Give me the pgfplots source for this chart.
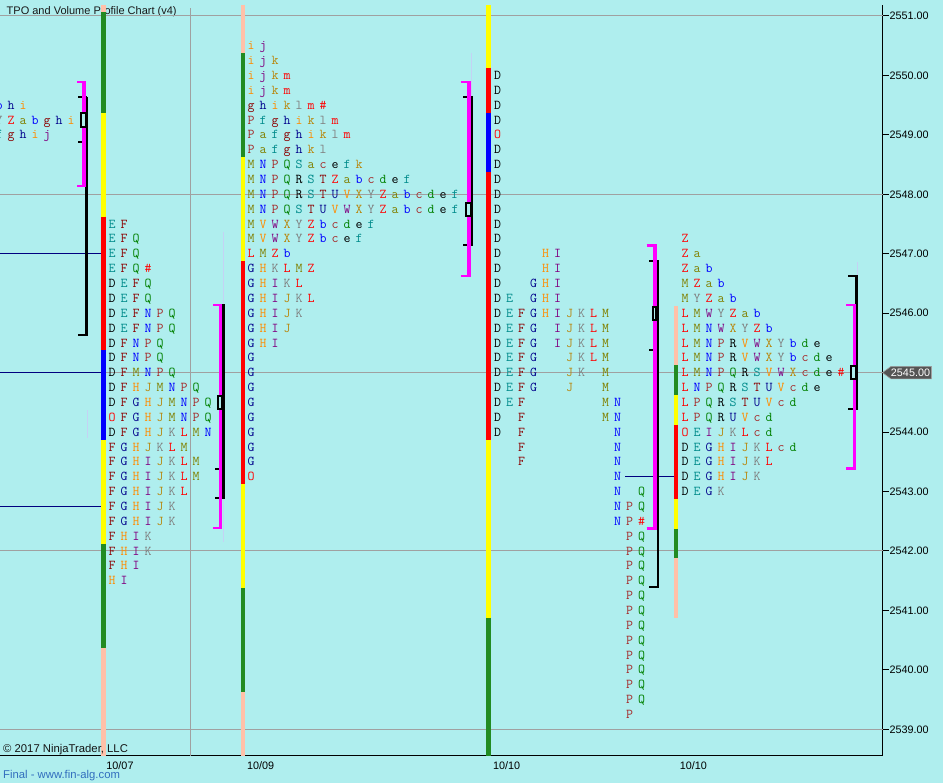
\documentclass[border=0pt]{standalone}
\usepackage{pgfplots}
\pgfplotsset{compat=1.18}
\usepackage{fontspec}
\setmainfont{Liberation Sans}
\definecolor{bgc}{HTML}{AFEEEE}
\definecolor{gridc}{HTML}{A0A0A0}
\definecolor{navyc}{HTML}{000080}
\definecolor{pkc}{HTML}{FFC0A8}
\definecolor{gnc}{HTML}{228B22}
\definecolor{ylc}{HTML}{FFFF00}
\definecolor{rdc}{HTML}{FF0000}
\definecolor{blc}{HTML}{0000FF}
\definecolor{mgc}{HTML}{FF00FF}
\definecolor{faintc}{HTML}{C4D2F4}
% TPO letter colour cycle
\definecolor{qa}{HTML}{000000}
\definecolor{qb}{HTML}{008B8B}
\definecolor{qc}{HTML}{8B0000}
\definecolor{qd}{HTML}{00008B}
\definecolor{qe}{HTML}{FF8C00}
\definecolor{qf}{HTML}{800080}
\definecolor{qg}{HTML}{B8860B}
\definecolor{qh}{HTML}{808080}
\definecolor{qi}{HTML}{FF0000}
\definecolor{qj}{HTML}{808000}
\definecolor{qk}{HTML}{0000FF}
\definecolor{ql}{HTML}{A52A2A}
\definecolor{qm}{HTML}{008000}
\colorlet{tpoD}{qa}\colorlet{tpoE}{qb}\colorlet{tpoF}{qc}\colorlet{tpoG}{qd}
\colorlet{tpoH}{qe}\colorlet{tpoI}{qf}\colorlet{tpoJ}{qg}\colorlet{tpoK}{qh}
\colorlet{tpoL}{qi}\colorlet{tpoM}{qj}\colorlet{tpoN}{qk}\colorlet{tpoP}{ql}
\colorlet{tpoQ}{qm}\colorlet{tpoR}{qa}\colorlet{tpoS}{qb}\colorlet{tpoT}{qc}
\colorlet{tpoU}{qd}\colorlet{tpoV}{qe}\colorlet{tpoW}{qf}\colorlet{tpoX}{qg}
\colorlet{tpoY}{qh}\colorlet{tpoZ}{qi}\colorlet{tpoa}{qj}\colorlet{tpob}{qk}
\colorlet{tpoc}{ql}\colorlet{tpod}{qm}\colorlet{tpoe}{qa}\colorlet{tpof}{qb}
\colorlet{tpog}{qc}\colorlet{tpoh}{qd}\colorlet{tpoi}{qe}\colorlet{tpoj}{qf}
\colorlet{tpok}{qg}\colorlet{tpol}{qh}\colorlet{tpom}{qi}\colorlet{tpoO}{qi}
\def\tpoend{}
\def\tpochx#1{\ifx#1.\else\ifx#1*\textcolor{red}{\#}\else\textcolor{tpo#1}{#1}\fi\fi}
\newcommand\tpoch[1]{\makebox[12pt][c]{\tpochx#1}}
\def\tpoloop#1{\ifx#1\tpoend\else\tpoch{#1}\expandafter\tpoloop\fi}
\newcommand\tpo[1]{\tpoloop#1\tpoend}
\newcommand\R[3]{\node[tpo] at (axis cs:#1,#2) {\tpo{#3}};}
\newcommand\bs[5]{\addplot[line width=#1pt,#2] coordinates {(#3,#4) (#3,#5)};}
\newcommand\hl[5]{\addplot[line width=#1pt,#2] coordinates {(#3,#5) (#4,#5)};}
\newcommand\poc[4]{\addplot[draw=black, line width=2pt, fill=bgc] coordinates {(#1,#3) (#2,#3) (#2,#4) (#1,#4)} -- cycle;}
\tikzset{tpo/.style={anchor=base west, inner sep=0pt, yshift=-4.1pt, font=\ttfamily\fontsize{13.5pt}{14pt}\selectfont}}
\begin{document}
\begin{tikzpicture}
\fill[bgc] (0pt,-27pt) rectangle (943pt,756pt);
\node[anchor=west, inner sep=0pt, font=\fontsize{11pt}{12pt}\selectfont, text={rgb,255:red,25;green,25;blue,25}] at (6.5pt,744pt) {TPO and Volume Profile Chart (v4)};
\begin{axis}[
  scale only axis, width=882.5pt, height=751pt,
  xmin=0, xmax=882.5, ymin=2538.551, ymax=2551.185,
  axis x line=bottom, axis y line=right,
  axis line style={-, black, line width=1pt},
  xtick={120,260.7,506.7,693.3},
  xticklabels={10/07,10/09,10/10,10/10},
  xtick style={draw=none},
  ytick={2539,2540,2541,2542,2543,2544,2545,2546,2547,2548,2549,2550,2551},
  yticklabels={{2539.00},{2540.00},{2541.00},{2542.00},{2543.00},{2544.00},{},{2546.00},{2547.00},{2548.00},{2549.00},{2550.00},{2551.00}},
  tick align=outside, major tick length=6pt,
  ytick style={black, line width=1pt},
  ticklabel style={font=\fontsize{10.8pt}{12pt}\selectfont, text=black},
  yticklabel style={inner sep=1pt},
  xticklabel style={inner sep=0pt, yshift=1pt},
  clip=false,
]
% grid
\hl{1}{gridc}{0}{882.5}{2539}
\hl{1}{gridc}{0}{882.5}{2542}
\hl{1}{gridc}{0}{882.5}{2545}
\hl{1}{gridc}{0}{882.5}{2548}
\hl{1}{gridc}{0}{882.5}{2551}
\bs{1}{gridc}{190}{2538.551}{2551.13}
% navy reference lines
\hl{1}{navyc}{0}{101}{2547}
\hl{1}{navyc}{0}{101}{2545}
\hl{1}{navyc}{0}{101}{2542.75}
\hl{1}{navyc}{625}{674}{2543.25}
% faint lines
\bs{1}{faintc}{223.3}{2547.37}{2542.15}
\bs{1}{faintc}{471.5}{2550.38}{2549.64}
\bs{1}{faintc}{857.8}{2546.86}{2546.63}
\bs{1}{faintc}{87}{2544.37}{2543.90}
\bs{1}{faintc}{658.8}{2545.63}{2545.38}
% bar 10/07
\bs{5}{pkc}{103.5}{2551.185}{2551.06}
\bs{5}{gnc}{103.5}{2551.06}{2549.375}
\bs{5}{ylc}{103.5}{2549.375}{2547.625}
\bs{5}{rdc}{103.5}{2547.625}{2545.375}
\bs{5}{blc}{103.5}{2545.375}{2543.875}
\bs{5}{ylc}{103.5}{2543.875}{2542.125}
\bs{5}{gnc}{103.5}{2542.125}{2540.375}
\bs{5}{pkc}{103.5}{2540.375}{2538.551}
% bar 10/09
\bs{4.5}{pkc}{243}{2551.185}{2550.375}
\bs{4.5}{gnc}{243}{2550.375}{2548.625}
\bs{4.5}{ylc}{243}{2548.625}{2546.875}
\bs{4.5}{rdc}{243}{2546.875}{2543.125}
\bs{4.5}{ylc}{243}{2543.125}{2541.375}
\bs{4.5}{gnc}{243}{2541.375}{2539.625}
\bs{4.5}{pkc}{243}{2539.625}{2538.551}
% bar 10/10
\bs{4.5}{ylc}{488.7}{2551.185}{2550.125}
\bs{4.5}{rdc}{488.7}{2550.125}{2549.375}
\bs{4.5}{blc}{488.7}{2549.375}{2548.375}
\bs{4.5}{rdc}{488.7}{2548.375}{2543.875}
\bs{4.5}{ylc}{488.7}{2543.875}{2540.875}
\bs{4.5}{gnc}{488.7}{2540.875}{2538.551}
% bar 10/10 (current)
\bs{3.5}{pkc}{675.8}{2546.125}{2545.125}
\bs{3.5}{gnc}{675.8}{2545.125}{2544.625}
\bs{3.5}{ylc}{675.8}{2544.625}{2544.125}
\bs{3.5}{rdc}{675.8}{2544.125}{2542.875}
\bs{3.5}{ylc}{675.8}{2542.875}{2542.375}
\bs{3.5}{gnc}{675.8}{2542.375}{2541.875}
\bs{3.5}{pkc}{675.8}{2541.875}{2540.875}
% value area brackets: previous day
\bs{3}{black}{86.5}{2549.64}{2545.63}
\hl{2}{black}{78}{87}{2549.64}
\hl{2}{black}{78}{87}{2548.88}
\hl{2}{black}{78}{88}{2545.63}
\bs{4.3}{mgc}{83.8}{2549.89}{2548.14}
\hl{2.5}{mgc}{77}{86}{2549.89}
\hl{2.5}{mgc}{77}{86}{2548.14}
\poc{81}{85.5}{2549.14}{2549.36}
% 10/07
\bs{2.5}{black}{223.3}{2546.14}{2542.89}
\hl{2}{black}{215}{224.5}{2546.14}
\hl{2}{black}{215}{224.5}{2543.38}
\hl{2}{black}{215}{224.5}{2542.89}
\bs{3.5}{mgc}{220.5}{2546.14}{2542.39}
\hl{2.5}{mgc}{213}{222}{2546.14}
\hl{2.5}{mgc}{213}{222}{2542.39}
\poc{218}{222}{2544.39}{2544.61}
% 10/09
\bs{2.5}{black}{472}{2549.64}{2547.14}
\hl{2}{black}{463}{473}{2549.64}
\hl{2}{black}{463}{473}{2547.14}
\bs{4}{mgc}{469}{2549.89}{2546.63}
\hl{2.5}{mgc}{461}{470.5}{2549.89}
\hl{2.5}{mgc}{461}{470.5}{2546.63}
\poc{466}{470.5}{2547.64}{2547.86}
% 10/10
\bs{2.5}{black}{657.8}{2546.88}{2541.40}
\hl{2}{black}{649}{659}{2546.88}
\hl{2}{black}{649}{659}{2545.38}
\hl{2}{black}{649}{659}{2541.40}
\bs{3.5}{mgc}{655}{2547.14}{2542.38}
\hl{2.5}{mgc}{646.7}{656.5}{2547.14}
\hl{2.5}{mgc}{646.7}{656.5}{2542.38}
\poc{652.7}{655.7}{2545.89}{2546.11}
% 10/10 current
\bs{3}{black}{856.8}{2546.63}{2544.39}
\hl{2}{black}{848}{858}{2546.63}
\hl{2}{black}{848}{858}{2544.39}
\bs{3.5}{mgc}{854.5}{2546.14}{2543.39}
\hl{2.5}{mgc}{846}{856}{2546.14}
\hl{2.5}{mgc}{846}{856}{2543.39}
\poc{851}{856}{2544.89}{2545.11}
% ---- TPO letters: previous day (cut off)
\R{-7}{2549.5}{bhi}
\R{-7}{2549.25}{YZabghi}
\R{-7}{2549.0}{fghij}
% ---- 10/07
\R{106}{2547.5}{EF}
\R{106}{2547.25}{EFQ}
\R{106}{2547.0}{EFQ}
\R{106}{2546.75}{EFQ*}
\R{106}{2546.5}{DEFQ}
\R{106}{2546.25}{DEFQ}
\R{106}{2546.0}{DEFNPQ}
\R{106}{2545.75}{DEFNPQ}
\R{106}{2545.5}{DFNPQ}
\R{106}{2545.25}{DFNPQ}
\R{106}{2545.0}{DFMNPQ}
\R{106}{2544.75}{DFHJMNPQ}
\R{106}{2544.5}{DFGHJMNPQ}
\R{106}{2544.25}{OFGHJMNPQ}
\R{106}{2544.0}{DFGHJKLMN}
\R{106}{2543.75}{FGHJKLM}
\R{106}{2543.5}{FGHIJKLM}
\R{106}{2543.25}{FGHIJKLM}
\R{106}{2543.0}{FGHIJKL}
\R{106}{2542.75}{FGHIJK}
\R{106}{2542.5}{FGHIJK}
\R{106}{2542.25}{FHIK}
\R{106}{2542.0}{FHIK}
\R{106}{2541.75}{FHI}
\R{106}{2541.5}{HI}
% ---- 10/09
\R{245}{2550.5}{ij}
\R{245}{2550.25}{ijk}
\R{245}{2550.0}{ijkm}
\R{245}{2549.75}{ijkm}
\R{245}{2549.5}{ghiklm*}
\R{245}{2549.25}{Pfghiklm}
\R{245}{2549.0}{Pafghiklm}
\R{245}{2548.75}{Pafghkl}
\R{245}{2548.5}{MNPQSacefk}
\R{245}{2548.25}{MNPQRSTZabcdef}
\R{245}{2548.0}{MNPQRSTUVXYZabcdef}
\R{245}{2547.75}{MNPQSTUVWXYZabcdef}
\R{245}{2547.5}{MVWXYZbcdef}
\R{245}{2547.25}{MVWXYZbcef}
\R{245}{2547.0}{LMZb}
\R{245}{2546.75}{GHKLMZ}
\R{245}{2546.5}{GHIKL}
\R{245}{2546.25}{GHIJKL}
\R{245}{2546.0}{GHIJK}
\R{245}{2545.75}{GHIJ}
\R{245}{2545.5}{GHI}
\R{245}{2545.25}{G}
\R{245}{2545.0}{G}
\R{245}{2544.75}{G}
\R{245}{2544.5}{G}
\R{245}{2544.25}{G}
\R{245}{2544.0}{G}
\R{245}{2543.75}{G}
\R{245}{2543.5}{G}
\R{245}{2543.25}{O}
% ---- 10/10
\R{491.5}{2550.0}{D}
\R{491.5}{2549.75}{D}
\R{491.5}{2549.5}{D}
\R{491.5}{2549.25}{D}
\R{491.5}{2549.0}{O}
\R{491.5}{2548.75}{D}
\R{491.5}{2548.5}{D}
\R{491.5}{2548.25}{D}
\R{491.5}{2548.0}{D}
\R{491.5}{2547.75}{D}
\R{491.5}{2547.5}{D}
\R{491.5}{2547.25}{D}
\R{491.5}{2547.0}{D...HI}
\R{491.5}{2546.75}{D...HI}
\R{491.5}{2546.5}{D..GHI}
\R{491.5}{2546.25}{DE.GHI}
\R{491.5}{2546.0}{DEFGHIJKLM}
\R{491.5}{2545.75}{DEFG.IJKLM}
\R{491.5}{2545.5}{DEFG.IJKLM}
\R{491.5}{2545.25}{DEFG..JKLM}
\R{491.5}{2545.0}{DEFG..JK.M}
\R{491.5}{2544.75}{DEFG..J..M}
\R{491.5}{2544.5}{DEF......MN}
\R{491.5}{2544.25}{D.F......MN}
\R{491.5}{2544.0}{D.F.......N}
\R{491.5}{2543.75}{..F.......N}
\R{491.5}{2543.5}{..F.......N}
\R{491.5}{2543.25}{..........N}
\R{491.5}{2543.0}{..........N.Q}
\R{491.5}{2542.75}{..........NPQ}
\R{491.5}{2542.5}{..........NP*}
\R{491.5}{2542.25}{...........PQ}
\R{491.5}{2542.0}{...........PQ}
\R{491.5}{2541.75}{...........PQ}
\R{491.5}{2541.5}{...........PQ}
\R{491.5}{2541.25}{...........PQ}
\R{491.5}{2541.0}{...........PQ}
\R{491.5}{2540.75}{...........PQ}
\R{491.5}{2540.5}{...........PQ}
\R{491.5}{2540.25}{...........PQ}
\R{491.5}{2540.0}{...........PQ}
\R{491.5}{2539.75}{...........PQ}
\R{491.5}{2539.5}{...........PQ}
\R{491.5}{2539.25}{...........P}
% ---- 10/10 current
\R{679}{2547.25}{Z}
\R{679}{2547.0}{Za}
\R{679}{2546.75}{Zab}
\R{679}{2546.5}{MZab}
\R{679}{2546.25}{MYZab}
\R{679}{2546.0}{LMWYZab}
\R{679}{2545.75}{LMNWXYZb}
\R{679}{2545.5}{LMNPRVWXYbde}
\R{679}{2545.25}{LMNPRVWXYbcde}
\R{679}{2545.0}{LMNPQRSVWXcde*}
\R{679}{2544.75}{LNPQRSTUVcde}
\R{679}{2544.5}{LPQRSTUVcd}
\R{679}{2544.25}{LPQRUVcd}
\R{679}{2544.0}{OEIJKLcd}
\R{679}{2543.75}{DEGHIJKLcd}
\R{679}{2543.5}{DEGHIJKL}
\R{679}{2543.25}{DEGHIJK}
\R{679}{2543.0}{DEGK}
\coordinate (pm) at (axis cs:882.5,2545);
\end{axis}
\filldraw[fill={rgb,255:red,85;green,85;blue,85}, draw={rgb,255:red,160;green,160;blue,160}, line width=0.6pt] (pm) -- ++(8.5pt,6.3pt) -- ++(40.5pt,0pt) -- ++(0pt,-12.6pt) -- ++(-40.5pt,0pt) -- cycle;
\node[text=white, inner sep=0pt, font=\fontsize{10.8pt}{12pt}\selectfont] at ([xshift=28pt]pm) {2545.00};
\node[anchor=west, inner sep=0pt, font=\fontsize{11.3pt}{12pt}\selectfont, text={rgb,255:red,20;green,20;blue,20}] at (3pt,6pt) {© 2017 NinjaTrader, LLC};
\node[anchor=west, inner sep=0pt, font=\fontsize{11.3pt}{12pt}\selectfont, text={rgb,255:red,50;green,110;blue,190}] at (3pt,-19.5pt) {Final - www.fin-alg.com};
\pgfresetboundingbox
\useasboundingbox (0pt,-27pt) rectangle (943pt,756pt);
\end{tikzpicture}
\end{document}
